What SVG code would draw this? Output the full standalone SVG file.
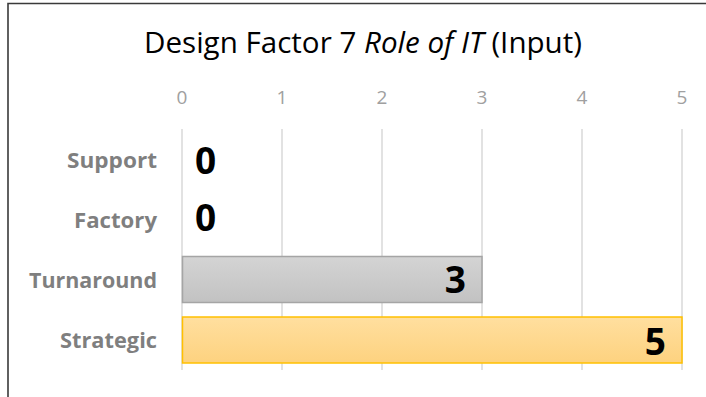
<svg xmlns="http://www.w3.org/2000/svg" width="706" height="397" viewBox="0 0 706 397">
  <defs>
    <linearGradient id="gGray" x1="0" y1="0" x2="0" y2="1">
      <stop offset="0" stop-color="#d4d4d4"/>
      <stop offset="1" stop-color="#c2c2c2"/>
    </linearGradient>
    <linearGradient id="gGold" x1="0" y1="0" x2="0" y2="1">
      <stop offset="0" stop-color="#ffdf9f"/>
      <stop offset="1" stop-color="#fdd27f"/>
    </linearGradient>
  </defs>
  <style>
    .title { font-family: "Open Sans", "Liberation Sans", sans-serif; font-size: 30px; fill: #000; }
    .tick { font-family: "Open Sans", "Liberation Sans", sans-serif; font-size: 19px; fill: #a0a0a0; text-anchor: middle; }
    .cat { font-family: "Open Sans", "Liberation Sans", sans-serif; font-size: 22px; font-weight: bold; fill: #7f7f7f; text-anchor: end; }
    .val { font-family: "Open Sans", "Liberation Sans", sans-serif; font-size: 37px; font-weight: bold; fill: #000; }
    .grid { stroke: #d9d9d9; stroke-width: 1.5; }
  </style>
  <rect x="0" y="0" width="706" height="397" fill="#ffffff"/>
  <path d="M8 397 V3.5 H706" fill="none" stroke="#3a3a3a" stroke-width="1.6"/>

  <text class="title" x="144" y="53" textLength="438" lengthAdjust="spacingAndGlyphs">Design Factor 7 <tspan font-style="italic">Role of IT</tspan> (Input)</text>

  <g id="axis">
    <text class="tick" x="182" y="104">0</text>
    <text class="tick" x="282" y="104">1</text>
    <text class="tick" x="382" y="104">2</text>
    <text class="tick" x="482" y="104">3</text>
    <text class="tick" x="582" y="104">4</text>
    <text class="tick" x="682" y="104">5</text>
  </g>

  <g id="gridlines">
    <line class="grid" x1="182" y1="129" x2="182" y2="370"/>
    <line class="grid" x1="282" y1="129" x2="282" y2="370"/>
    <line class="grid" x1="382" y1="129" x2="382" y2="370"/>
    <line class="grid" x1="482" y1="129" x2="482" y2="370"/>
    <line class="grid" x1="582" y1="129" x2="582" y2="370"/>
    <line class="grid" x1="682" y1="129" x2="682" y2="370"/>
  </g>

  <g id="support">
    <text class="cat" x="157" y="168" textLength="90" lengthAdjust="spacingAndGlyphs">Support</text>
    <text class="val" x="195" y="174">0</text>
  </g>
  <g id="factory">
    <text class="cat" x="157" y="228" textLength="83" lengthAdjust="spacingAndGlyphs">Factory</text>
    <text class="val" x="195" y="231">0</text>
  </g>
  <g id="turnaround">
    <rect x="182.5" y="256.5" width="299.5" height="46" fill="url(#gGray)" stroke="#a5a5a5" stroke-width="1.5"/>
    <text class="cat" x="157" y="288" textLength="128" lengthAdjust="spacingAndGlyphs">Turnaround</text>
    <text class="val" x="466" y="293" text-anchor="end">3</text>
  </g>
  <g id="strategic">
    <rect x="182.5" y="317" width="499.5" height="46" fill="url(#gGold)" stroke="#ffc000" stroke-width="1.5"/>
    <text class="cat" x="157" y="348" textLength="97" lengthAdjust="spacingAndGlyphs">Strategic</text>
    <text class="val" x="666" y="355" text-anchor="end">5</text>
  </g>
</svg>
